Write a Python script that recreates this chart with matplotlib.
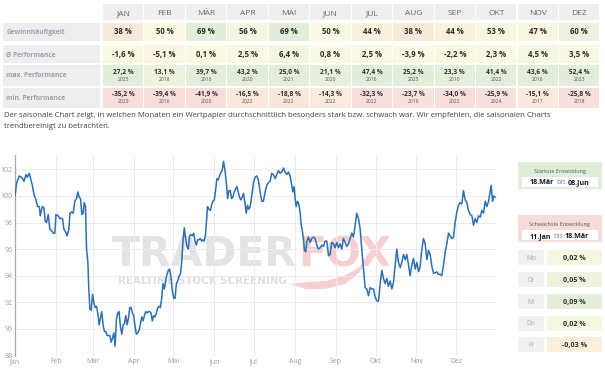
import matplotlib
matplotlib.use('Agg')
import matplotlib.pyplot as plt
from matplotlib.patches import Rectangle, Polygon
import matplotlib.colors as mcolors
import numpy as np

plt.rcParams['font.family'] = ['Open Sans', 'DejaVu Sans']

# ---------------- data ----------------
table_months = ['JAN', 'FEB', 'MÄR', 'APR', 'MAI', 'JUN', 'JUL', 'AUG', 'SEP', 'OKT', 'NOV', 'DEZ']
row_labels = ['Gewinnhäufigkeit', 'Ø Performance', 'max. Performance', 'min. Performance']
win_rate = [38, 50, 69, 56, 69, 50, 44, 38, 44, 53, 47, 60]
avg_perf = [-1.6, -5.1, 0.1, 2.5, 6.4, 0.8, 2.5, -3.9, -2.2, 2.3, 4.5, 3.5]
max_perf = [27.2, 13.1, 39.7, 43.2, 25.0, 21.1, 47.4, 25.2, 23.3, 41.4, 43.6, 52.4]
max_year = [2025, 2018, 2016, 2020, 2021, 2020, 2016, 2025, 2010, 2022, 2016, 2023]
min_perf = [-35.2, -39.4, -41.9, -16.5, -18.8, -14.3, -32.3, -23.7, -34.0, -25.9, -15.1, -25.8]
min_year = [2020, 2016, 2020, 2022, 2022, 2022, 2022, 2019, 2022, 2024, 2017, 2018]

description = ("Der saisonale Chart zeigt, in welchen Monaten ein Wertpapier durchschnittlich besonders stark bzw. "
               "schwach war. Wir empfehlen, die saisonalen Charts\ntrendbereinigt zu betrachten.")

axis_months = ['Jan', 'Feb', 'Mär', 'Apr', 'Mai', 'Jun', 'Jul', 'Aug', 'Sep', 'Okt', 'Nov', 'Dez']
month_start_day = [0, 31, 59, 90, 120, 151, 181, 212, 243, 273, 304, 334]
y_ticks = [88, 90, 92, 94, 96, 98, 100, 102]

# seasonal curve (day of year, index value)
curve_day = [
    0.0, 1.3, 3.3, 5.8, 6.8, 8.3, 9.3, 10.8, 12.1, 13.1, 14.4, 15.6, 17.1, 18.4, 19.1, 20.7, 21.9, 22.9,
    23.9, 25.2, 26.4, 27.7, 29.0, 30.2, 31.0, 32.7, 34.0, 36.0, 37.0, 38.3, 39.5, 40.8, 41.6, 42.8, 44.1,
    45.3, 46.6, 47.6, 48.6, 49.6, 50.6, 51.6, 52.4, 53.4, 54.2, 55.2, 55.9, 56.7, 57.7, 58.7, 59.7, 60.7,
    61.7, 62.7, 63.7, 64.7, 65.7, 66.8, 67.8, 68.8, 69.8, 71.8, 72.8, 73.8, 74.8, 75.8, 76.8, 77.8, 78.8,
    79.8, 80.9, 81.9, 82.9, 83.9, 84.9, 85.9, 86.9, 87.9, 88.9, 89.9, 90.9, 91.9, 92.9, 94.0, 95.0, 96.0,
    97.0, 98.0, 99.0, 100.0, 101.0, 102.0, 103.0, 104.0, 105.0, 106.0, 107.1, 108.1, 109.1, 110.1, 111.1,
    112.1, 113.1, 114.1, 115.1, 116.1, 117.1, 118.1, 119.1, 120.2, 121.2, 122.2, 123.2, 124.2, 125.2,
    126.2, 127.2, 128.2, 129.2, 130.2, 131.2, 132.2, 133.2, 134.3, 135.3, 136.3, 137.3, 138.3, 139.3,
    140.3, 141.3, 142.3, 143.3, 144.3, 145.3, 145.8, 146.9, 147.9, 148.9, 149.9, 150.9, 151.9, 152.9,
    153.9, 154.9, 155.9, 156.9, 157.9, 158.9, 160.0, 161.0, 162.0, 163.0, 164.0, 165.0, 166.0, 167.0,
    168.0, 169.0, 170.0, 171.0, 172.0, 173.0, 174.1, 175.1, 176.1, 177.1, 178.1, 179.3,
    180.6, 181.8, 183.1, 184.3, 185.6, 186.9, 188.1, 189.4, 190.7, 191.9, 193.2, 194.4, 195.7, 197.0,
    198.2, 199.5, 200.8, 202.0, 203.3, 204.5, 205.8, 207.1, 208.3, 209.6, 210.4, 211.4, 212.1, 212.9,
    213.9, 214.9, 216.0, 216.7, 217.4, 218.4, 219.2, 220.2, 221.0, 222.2, 223.5, 224.7, 226.0, 227.3,
    228.5, 229.8, 231.1, 232.3, 233.6, 234.8, 236.1, 237.4, 238.6, 239.9, 241.2, 242.4, 243.7, 245.0,
    246.2, 247.5, 248.7, 250.0, 251.3, 252.5, 253.8, 255.1, 256.3, 257.6, 258.8, 260.1, 261.4, 262.6,
    263.9, 265.2, 266.4, 267.7, 268.9, 270.2, 271.5, 272.7, 274.0, 275.3, 276.5, 277.8, 279.0, 280.3,
    281.6, 282.8, 284.1, 285.4, 286.6, 287.9, 289.1, 290.4, 291.7, 292.9, 294.2, 295.5, 296.7, 298.0,
    299.2, 300.5, 301.8, 303.0, 304.3, 305.6, 306.8, 308.1, 309.3, 310.6, 311.9, 313.1, 314.4, 315.7,
    316.9, 318.2, 319.4, 320.7, 322.0, 323.2, 324.5, 325.8, 327.0, 328.3, 329.5, 330.8, 332.1, 333.3,
    334.6, 335.9, 337.1, 338.4, 339.6, 340.9, 342.2, 343.4, 344.7, 346.0, 347.2, 348.5, 349.7, 351.0,
    352.3, 353.5, 354.8, 356.1, 357.3, 358.6, 359.8, 360.6, 361.6, 362.4, 363.6]
curve_value = [
    100.0, 101.0, 101.5, 101.3, 101.1, 101.6, 101.4, 101.7, 101.2, 100.8, 100.1, 99.8, 99.2, 99.2, 98.5,
    99.2, 99.1, 98.1, 98.0, 98.6, 97.5, 97.4, 97.2, 97.2, 98.6, 98.5, 98.3, 98.3, 97.5, 97.3, 97.0, 97.5,
    98.7, 98.8, 98.7, 99.6, 99.8, 100.3, 99.9, 99.8, 98.6, 98.7, 99.5, 99.2, 96.0, 95.0, 93.0, 91.5, 91.4,
    92.6, 92.0, 91.6, 91.7, 91.2, 90.3, 90.8, 91.3, 90.2, 89.8, 89.8, 89.5, 89.5, 89.0, 89.3, 89.7, 88.7,
    90.7, 91.2, 91.3, 90.2, 89.6, 90.3, 90.4, 91.0, 90.3, 90.8, 91.6, 91.6, 91.2, 91.0, 90.2, 89.6, 89.7,
    89.9, 90.4, 90.9, 90.6, 91.0, 91.3, 91.2, 91.3, 91.3, 91.2, 90.6, 91.0, 90.9, 91.2, 91.6, 91.7, 91.6,
    92.3, 93.4, 93.0, 93.6, 94.1, 94.4, 94.5, 93.9, 92.9, 92.3, 92.3, 93.4, 93.6, 94.0, 94.1, 95.0, 96.6,
    97.6, 96.8, 96.2, 96.0, 97.0, 97.1, 97.0, 97.2, 96.6, 96.3, 96.7, 96.7, 96.8, 96.6, 96.7, 96.6, 97.1,
    98.5, 99.2, 99.0, 98.9, 99.3, 99.6, 99.7, 100.4, 101.3, 101.2, 101.5, 101.8, 101.9, 102.6, 102.0,
    101.0, 99.8, 100.4, 100.4, 99.8, 99.9, 100.3, 100.5, 100.7, 100.3, 99.9, 99.7, 99.9, 100.2, 99.5,
    98.7, 99.3, 99.0, 99.2, 100.0,
    101.0, 101.4, 101.5, 101.2, 100.3, 99.6, 99.6, 100.3, 100.8, 101.0, 101.1, 101.7, 101.6, 101.3,
    101.6, 101.9, 101.7, 101.8, 102.1, 101.8, 101.6, 101.8, 101.5, 100.8, 100.3, 100.7, 99.8, 99.2,
    99.6, 99.4, 98.7, 97.8, 97.5, 96.8, 95.9, 95.8, 96.6, 96.9, 96.5, 96.8, 96.9, 96.8, 96.3, 96.0,
    96.1, 96.3, 96.2, 96.6, 96.6, 95.5, 95.6, 96.5, 96.4, 96.1, 96.5, 96.1, 96.4, 96.0, 96.8, 96.5,
    96.2, 96.4, 96.8, 97.2, 96.9, 97.8, 98.7, 98.3, 97.5, 96.0, 94.5, 93.1, 93.0, 92.5, 93.1, 93.0,
    93.0, 92.4, 92.1, 92.1, 93.4, 94.4, 93.8, 93.4, 93.8, 93.2, 93.6, 93.0, 93.5, 94.8, 96.0, 95.0,
    94.6, 95.0, 95.6, 95.2, 95.6, 94.8, 94.0, 94.8, 95.3, 94.5, 95.0, 94.3, 94.7, 96.0, 96.8, 96.4,
    95.2, 95.9, 95.6, 94.7, 94.2, 94.2, 94.3, 94.1, 94.1, 94.0, 94.8, 95.8, 96.4, 97.2, 97.0, 96.8,
    96.9, 98.0, 98.8, 99.3, 99.5, 99.4, 100.4, 99.7, 99.5, 98.9, 98.6, 98.5, 97.8, 98.3, 98.0, 98.5,
    98.4, 98.9, 98.7, 99.6, 99.2, 99.6, 100.3, 100.8, 99.6, 100.0, 99.9]

best_period = ('18.Mär', '08.Jun')
worst_period = ('11.Jan', '18.Mär')
weekdays = ['Mo', 'Di', 'Mi', 'Do', 'Fr']
weekday_perf = [0.02, 0.05, 0.09, 0.02, -0.03]

# ---------------- helpers ----------------
W, H = 605, 375
fig = plt.figure(figsize=(W / 100, H / 100), dpi=100)
bg = fig.add_axes([0, 0, 1, 1])
bg.set_xlim(0, W)
bg.set_ylim(H, 0)
bg.axis('off')

ORANGE = '#f8e9d8'
YELLOW = '#fbf9e1'
GREEN = '#e2eeda'
PINK = '#f7dedb'


def mix(c1, c2, t):
    t = max(0.0, min(1.0, t))
    a = np.array(mcolors.to_rgb(c1))
    b = np.array(mcolors.to_rgb(c2))
    return tuple(a + (b - a) * t)


def scale_color(v, neg_ref, pos_ref, neg_col=ORANGE):
    if v < 0:
        return mix(YELLOW, neg_col, -v / neg_ref)
    return mix(YELLOW, GREEN, v / pos_ref)


def de(v, d=1):
    return f"{v:.{d}f}".replace('.', ',') + ' %'


def txt(x, cy, s, size, **kw):
    # place text so that the cap height is centred on cy (Open Sans cap ~ size px)
    return bg.text(x, cy + 0.5 * size, s, fontsize=size, va='baseline', **kw)


# ---------------- monthly table ----------------
col_x0, col_pitch, col_w = 103.0, 41.45, 40.4
for i, m in enumerate(table_months):
    x0 = col_x0 + i * col_pitch
    cx = x0 + col_w / 2
    bg.add_patch(Rectangle((x0, 4), col_w, 16, color='#efefef', lw=0))
    txt(cx, 12.3, m, 6.0, ha='center', color='#666666')
    # row 1
    bg.add_patch(Rectangle((x0, 23), col_w, 17.5, color=scale_color(win_rate[i] - 50, 12, 19), lw=0))
    txt(cx, 31.6, f"{win_rate[i]} %", 5.6, ha='center', color='#2b2b2b', fontweight='bold')
    # row 2
    bg.add_patch(Rectangle((x0, 44.5), col_w, 18.5, color=scale_color(avg_perf[i], 25, 25), lw=0))
    txt(cx, 54.0, de(avg_perf[i]), 5.6, ha='center', color='#2b2b2b', fontweight='bold')
    # row 3
    bg.add_patch(Rectangle((x0, 64.5), col_w, 21.5, color=mix(YELLOW, GREEN, max_perf[i] / 25), lw=0))
    txt(cx, 71.3, de(max_perf[i]), 4.7, ha='center', color='#2b2b2b', fontweight='bold')
    txt(cx, 79.6, str(max_year[i]), 3.6, ha='center', color='#555555')
    # row 4
    bg.add_patch(Rectangle((x0, 87.5), col_w, 20, color=mix(YELLOW, PINK, -min_perf[i] / 28), lw=0))
    txt(cx, 93.6, de(min_perf[i]), 4.7, ha='center', color='#2b2b2b', fontweight='bold')
    txt(cx, 101.2, str(min_year[i]), 3.6, ha='center', color='#555555')

label_boxes = [(23, 17.5, 31.8), (44.5, 18.5, 54.0), (64.5, 21.5, 75.0), (87.5, 20, 97.3)]
for lab, (y0, h, cy) in zip(row_labels, label_boxes):
    bg.add_patch(Rectangle((3.3, y0), 96.7, h, color='#eeeeee', lw=0))
    txt(6.5, cy, lab, 4.8, ha='left', color='#98a0ad', fontweight='bold')

bg.text(4, 127.5, description, fontsize=5.62, va='baseline', ha='left', color='#444444',
        linespacing=1.72)

# ---------------- watermark ----------------
bg.text(297, 266.5, 'TRADER', fontsize=29.5, family='DejaVu Sans', fontweight='bold',
        color='#e3e3e3', ha='right', va='baseline', zorder=1)
bg.text(298, 266.5, 'FOX', fontsize=29.5, family='DejaVu Sans', fontweight='bold',
        color='#f8cfd1', ha='left', va='baseline', zorder=1)
bg.text(118, 284.5, 'REALTIME STOCK SCREENING', fontsize=7.4, family='DejaVu Sans',
        fontweight='bold', color='#dedede', ha='left', va='baseline', zorder=1)
swoosh = [(290, 284), (305, 289), (325, 289), (345, 284), (358, 274), (366, 262),
          (358, 268), (344, 276), (326, 281), (308, 282), (290, 284)]
bg.add_patch(Polygon(swoosh, closed=True, color='#f8cfd1', lw=0, zorder=1))

# ---------------- chart ----------------
ax_left, ax_right, ax_top, ax_bottom = 15, 497, 155, 355.5
px_per_unit = 13.3
ax = fig.add_axes([ax_left / W, 1 - ax_bottom / H, (ax_right - ax_left) / W, (ax_bottom - ax_top) / H])
ax.patch.set_alpha(0)
ax.set_xlim(0, 365)
ax.set_ylim(88, 88 + (ax_bottom - ax_top) / px_per_unit)
ax.set_xticks(month_start_day)
ax.set_xticklabels(axis_months)
ax.set_yticks(y_ticks)
ax.set_yticklabels([str(v) for v in y_ticks])
ax.grid(True, color='#ebebeb', lw=0.7)
ax.set_axisbelow(True)
for s in ['top', 'right', 'bottom']:
    ax.spines[s].set_visible(False)
ax.spines['left'].set_color('#aaaaaa')
ax.spines['left'].set_linewidth(0.9)
ax.tick_params(length=0, labelsize=5.0, colors='#999999', pad=1.8)
ax.plot(curve_day, curve_value, color='#2c6fb4', lw=1.1, zorder=3, solid_joinstyle='round')

# ---------------- right panel ----------------
renderer = fig.canvas.get_renderer()


def mixed_line(parts, cx, cy, size):
    objs = []
    for s, bold in parts:
        t = txt(0, cy, s, size, ha='left', fontweight='bold' if bold else 'normal',
                color='#1a1a1a' if bold else '#888888')
        objs.append(t)
    widths = [o.get_window_extent(renderer).width for o in objs]
    gap = 2.0
    total = sum(widths) + gap * (len(widths) - 1)
    x = cx - total / 2
    for o, w in zip(objs, widths):
        o.set_x(x)
        x += w + gap


box_x0, box_w = 517.7, 84
for (y0, col, title, period) in [(161.7, '#e1eddb', 'Stärkste Entwicklung', best_period),
                                 (215.0, '#f6dcda', 'Schwächste Entwicklung', worst_period)]:
    bg.add_patch(Rectangle((box_x0, y0), box_w, 27, color=col, lw=0))
    txt(box_x0 + box_w / 2, y0 + 9.0, title, 3.9, ha='center', color='#555555')
    bg.add_patch(Rectangle((box_x0 + 4, y0 + 14.8), box_w - 8, 10.5, color='white', lw=0))
    mixed_line([(period[0], True), ('bis', False), (period[1], True)],
               box_x0 + box_w / 2, y0 + 20.2, 5.1)

for i, (d, v) in enumerate(zip(weekdays, weekday_perf)):
    cy = 257.6 + i * 21.8
    bg.add_patch(Rectangle((518, cy - 7.5), 26, 15, color='#f1f1f1', lw=0))
    txt(531, cy, d, 4.8, ha='center', color='#aaaaaa')
    bg.add_patch(Rectangle((547, cy - 7.5), 55, 15, color=scale_color(v, 0.05, 0.1), lw=0))
    txt(574.5, cy, de(v, 2), 5.1, ha='center', color='#2b2b2b', fontweight='bold')

fig.savefig('out.png', dpi=100)
